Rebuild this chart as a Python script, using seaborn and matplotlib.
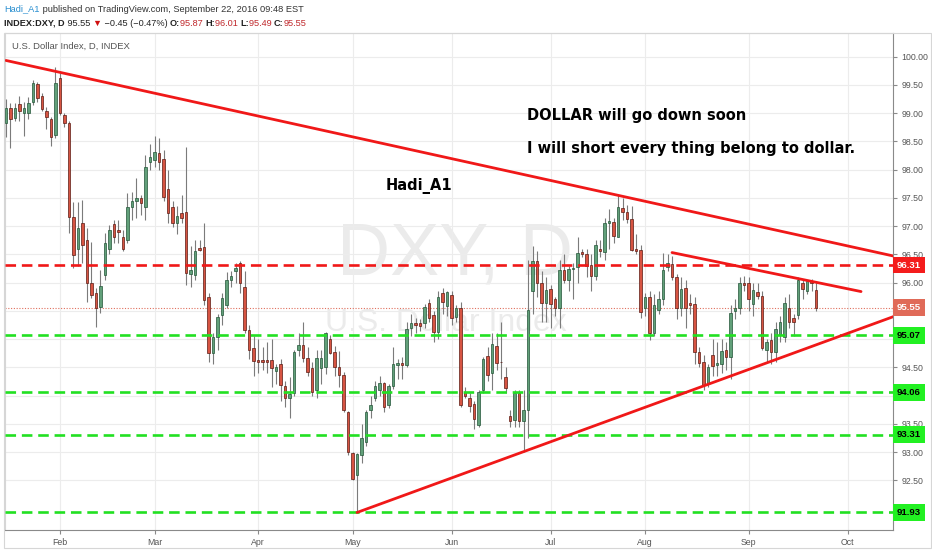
import numpy as np
import pandas as pd
import seaborn as sns
import matplotlib
matplotlib.use('Agg')
import matplotlib.pyplot as plt
from matplotlib.transforms import IdentityTransform
from matplotlib.patches import Rectangle

# daily bars of INDEX:DXY, first bar 2016-01-14, one per weekday
start_date = '2016-01-14'
opens = [98.82, 99.09, 98.91, 99.16, 99.00, 99.00, 99.20, 99.51, 99.30, 99.04,
         98.89, 98.61, 99.62, 98.96, 98.82, 97.16, 96.60, 97.05, 96.75, 95.99,
         95.81, 95.57, 96.13, 96.60, 97.03, 96.93, 96.80, 96.75, 97.34, 97.44,
         97.50, 97.33, 98.14, 98.17, 98.29, 98.18, 97.65, 97.34, 97.05, 97.23,
         97.25, 96.15, 96.13, 96.61, 96.63, 95.74, 94.75, 95.04, 95.43, 95.60,
         96.04, 96.20, 96.35, 95.92, 95.16, 94.84, 94.62, 94.63, 94.63, 94.63,
         94.43, 94.56, 94.16, 93.95, 94.04, 94.81, 94.90, 94.66, 94.48, 94.10,
         94.49, 94.50, 95.00, 94.77, 94.50, 94.36, 93.70, 92.98, 92.60, 92.95,
         93.18, 93.74, 93.96, 94.10, 94.22, 93.83, 94.16, 94.54, 94.58, 94.54,
         95.20, 95.28, 95.28, 95.28, 95.63, 95.42, 95.12, 95.81, 95.58, 95.78,
         95.39, 95.55, 94.07, 93.95, 93.85, 93.48, 94.10, 94.70, 94.40, 94.88,
         94.60, 94.33, 93.64, 93.57, 94.04, 93.55, 93.74, 95.85, 96.38, 96.00,
         95.63, 95.89, 95.71, 95.55, 96.22, 96.04, 96.24, 96.27, 96.54, 96.50,
         96.31, 96.11, 96.59, 96.54, 97.05, 97.07, 96.81, 97.32, 97.25, 97.12,
         96.60, 96.57, 95.55, 95.74, 95.10, 95.52, 95.71, 96.27, 96.33, 96.10,
         95.55, 95.90, 95.63, 95.62, 94.77, 94.60, 94.20, 94.72, 94.54, 94.55,
         94.80, 94.69, 95.50, 95.55, 96.00, 96.00, 95.62, 95.83, 95.76, 94.80,
         94.98, 94.77, 95.07, 95.04, 95.55, 95.37, 95.42, 96.00, 95.85, 96.02,
         95.87]
highs = [99.25, 99.18, 99.18, 99.30, 99.20, 99.28, 99.58, 99.55, 99.35, 99.10,
         98.93, 99.81, 99.71, 99.00, 98.85, 97.42, 97.42, 97.46, 96.96, 96.72,
         95.90, 96.22, 96.88, 97.02, 97.10, 97.10, 96.93, 97.58, 97.60, 97.85,
         97.55, 98.25, 98.45, 98.60, 98.55, 98.35, 98.00, 97.45, 97.35, 97.55,
         98.40, 96.65, 96.75, 96.75, 97.05, 95.82, 95.10, 95.45, 95.82, 96.18,
         96.20, 96.35, 96.38, 96.20, 95.25, 95.05, 95.00, 94.85, 94.95, 95.00,
         94.55, 94.65, 94.25, 94.33, 94.80, 95.10, 95.30, 94.85, 94.60, 94.80,
         94.80, 95.12, 95.07, 94.88, 94.78, 94.42, 93.73, 93.00, 92.98, 93.50,
         93.75, 94.00, 94.25, 94.35, 94.24, 94.20, 94.85, 94.65, 94.68, 95.30,
         95.45, 95.38, 95.35, 95.62, 95.70, 95.50, 95.85, 95.90, 95.85, 95.85,
         95.60, 95.65, 94.15, 94.05, 93.90, 94.10, 94.68, 94.85, 95.10, 95.10,
         95.30, 94.50, 93.75, 94.10, 94.10, 94.10, 96.40, 96.65, 96.55, 96.20,
         96.10, 95.95, 95.75, 96.40, 96.50, 96.30, 96.35, 96.80, 96.60, 96.60,
         96.50, 96.75, 96.75, 97.15, 97.30, 97.15, 97.55, 97.50, 97.38, 97.35,
         96.85, 96.66, 95.82, 95.85, 95.80, 95.85, 96.52, 96.50, 96.47, 96.15,
         96.10, 96.05, 95.80, 95.75, 94.85, 94.72, 94.55, 95.00, 94.95, 95.00,
         94.95, 95.60, 95.70, 96.10, 96.12, 96.10, 96.00, 96.00, 95.85, 95.00,
         95.10, 95.30, 95.40, 95.75, 95.80, 95.45, 96.10, 96.05, 96.05, 96.06,
         96.01]
lows = [98.58, 98.38, 98.85, 98.85, 98.60, 98.90, 99.15, 99.20, 99.03, 98.72,
        98.41, 98.56, 98.96, 98.75, 96.88, 96.26, 96.30, 96.35, 95.66, 95.72,
        95.21, 95.46, 96.04, 96.50, 96.70, 96.70, 96.55, 96.70, 97.10, 97.15,
        97.20, 97.10, 98.00, 98.05, 98.00, 97.45, 97.05, 96.98, 96.85, 97.05,
        95.95, 95.92, 96.05, 96.55, 95.60, 94.60, 94.55, 94.80, 95.25, 95.55,
        95.92, 96.00, 95.82, 95.10, 94.65, 94.35, 94.40, 94.45, 94.40, 94.15,
        94.20, 93.90, 93.80, 93.60, 94.00, 94.70, 94.60, 94.35, 94.00, 93.95,
        94.20, 94.38, 94.73, 94.35, 94.15, 93.70, 92.95, 92.50, 91.93, 92.80,
        93.10, 93.60, 93.90, 94.00, 93.70, 93.78, 94.12, 94.30, 94.30, 94.50,
        95.05, 95.10, 95.15, 95.20, 95.30, 94.95, 95.00, 95.45, 95.40, 95.25,
        95.30, 93.80, 93.95, 93.70, 93.40, 93.45, 94.05, 94.25, 94.10, 94.45,
        94.30, 94.05, 93.45, 93.45, 93.45, 93.00, 93.25, 95.45, 95.75, 95.30,
        95.30, 95.20, 95.40, 95.20, 96.00, 95.85, 95.70, 96.00, 96.45, 96.10,
        95.85, 96.05, 96.45, 96.40, 96.60, 96.70, 96.80, 97.10, 97.05, 96.55,
        96.50, 95.37, 95.40, 94.98, 95.05, 95.45, 95.60, 96.20, 96.05, 95.35,
        95.40, 95.20, 95.45, 94.55, 94.50, 94.10, 94.15, 94.35, 94.35, 94.40,
        94.45, 94.30, 95.35, 95.45, 95.85, 95.50, 95.40, 95.70, 94.80, 94.60,
        94.55, 94.60, 94.95, 94.95, 95.20, 95.05, 95.35, 95.70, 95.80, 95.85,
        95.49]
closes = [99.09, 98.89, 99.09, 99.03, 99.09, 99.18, 99.53, 99.26, 99.07, 98.93,
          98.57, 99.53, 99.00, 98.82, 97.16, 96.49, 96.96, 96.66, 95.99, 95.78,
          95.55, 95.94, 96.70, 96.93, 96.80, 96.90, 96.60, 97.34, 97.44, 97.50,
          97.41, 98.05, 98.23, 98.31, 98.13, 97.52, 97.23, 97.05, 97.17, 97.14,
          96.17, 96.22, 96.56, 96.58, 95.69, 94.75, 95.04, 95.39, 95.73, 96.04,
          96.11, 96.26, 95.99, 95.16, 94.80, 94.61, 94.60, 94.59, 94.60, 94.49,
          94.50, 94.19, 93.95, 94.02, 94.77, 94.90, 94.66, 94.42, 94.06, 94.66,
          94.66, 95.10, 94.75, 94.50, 94.36, 93.74, 93.00, 92.53, 92.97, 93.25,
          93.71, 93.83, 94.16, 94.22, 93.80, 94.16, 94.56, 94.58, 94.54, 95.18,
          95.28, 95.25, 95.23, 95.56, 95.37, 95.12, 95.75, 95.66, 95.83, 95.37,
          95.55, 93.83, 94.00, 93.82, 93.58, 94.07, 94.65, 94.36, 94.91, 94.58,
          94.59, 94.13, 93.55, 94.04, 93.55, 93.74, 95.51, 96.38, 96.00, 95.63,
          95.87, 95.62, 95.55, 96.22, 96.04, 96.24, 96.26, 96.52, 96.50, 96.29,
          96.11, 96.67, 96.56, 97.05, 97.09, 96.82, 97.34, 97.24, 97.12, 96.58,
          96.55, 95.47, 95.74, 95.10, 95.60, 95.71, 96.22, 96.34, 96.10, 95.55,
          95.88, 95.55, 95.60, 94.77, 94.57, 94.19, 94.50, 94.52, 94.57, 94.78,
          94.69, 95.46, 95.55, 96.00, 95.96, 95.70, 95.87, 95.76, 94.84, 94.95,
          94.77, 95.18, 95.30, 95.63, 95.30, 95.30, 96.05, 95.88, 96.02, 96.00,
          95.55]

red_levels = [96.31]
green_levels = [95.07, 94.06, 93.31, 91.93]
last_price = 95.55

# drawn trend lines: (dates, prices)
upper_trend = (['2016-01-14', '2016-10-18'], [99.93, 96.455])
lower_trend = (['2016-05-03', '2016-10-18'], [91.93, 95.42])
short_trend = (['2016-08-09', '2016-10-06'], [96.53, 95.84])

month_names = ['Feb', 'Mar', 'Apr', 'May', 'Jun', 'Jul', 'Aug', 'Sep', 'Oct']

sns.set_theme(style='white')
plt.rcParams['font.family'] = ['Liberation Sans', 'DejaVu Sans']

df = pd.DataFrame({'open': opens, 'high': highs, 'low': lows, 'close': closes})
days = pd.bdate_range(start_date, periods=205)
df['date'] = days[:len(df)]
df['pos'] = np.arange(len(df))
pos_of = {d: i for i, d in enumerate(days)}

fig = plt.figure(figsize=(9.32, 5.5), dpi=100)
fig.patch.set_facecolor('white')
ax = fig.add_axes([5 / 932, 20 / 550, 888 / 932, 497 / 550])
ax.set_facecolor('white')

# watermark
ax.text(0.507, 0.553, 'DXY, D', transform=ax.transAxes, ha='center', va='center',
        fontsize=53, color='#ebebeb', zorder=0.5)
ax.text(0.497, 0.416, 'U.S. Dollar Index', transform=ax.transAxes, ha='center', va='center',
        fontsize=23, color='#ebebeb', zorder=0.5)

# candles
up = df['close'] >= df['open']
ax.vlines(df['pos'], df['low'], df['high'], color='#7b7b7b', lw=0.8, zorder=3)
bottom = np.minimum(df['open'], df['close'])
height = np.maximum((df['close'] - df['open']).abs(), 0.012)
ax.bar(df['pos'][up], height[up], bottom=bottom[up], width=0.64,
       color='#62a07a', edgecolor='#225437', linewidth=0.5, zorder=4)
ax.bar(df['pos'][~up], height[~up], bottom=bottom[~up], width=0.64,
       color='#d75442', edgecolor='#5b1a13', linewidth=0.5, zorder=4)

# horizontal levels
ax.axhline(last_price, color='#e0705e', lw=0.8, ls=(0, (1, 1.5)), zorder=2)
for v in red_levels:
    ax.axhline(v, color='#f01818', lw=1.9, ls=(0, (4, 2.2)), zorder=5)
for v in green_levels:
    ax.axhline(v, color='#22e022', lw=1.9, ls=(0, (4, 2.2)), zorder=5)

# trend lines
for dates, prices in [upper_trend, lower_trend, short_trend]:
    tl = pd.DataFrame({'x': [pos_of[pd.Timestamp(d)] for d in dates], 'y': prices})
    sns.lineplot(data=tl, x='x', y='y', ax=ax, color='#f01818', lw=2.0, zorder=6)

# text drawn on chart
bold = dict(family='DejaVu Sans', fontweight='bold', fontsize=10.5, color='black',
            va='center', ha='left', zorder=7)
ax.text(84.4, 97.71, 'Hadi_A1', **bold)
ax.text(115.8, 98.95, 'DOLLAR will go down soon', **bold)
ax.text(115.8, 98.38, 'I will short every thing belong to dollar.', **bold)
ax.text(0.008, 0.974, 'U.S. Dollar Index, D, INDEX', transform=ax.transAxes,
        fontsize=6.8, color='#555555', va='center', ha='left', zorder=7)

# axes
tags = red_levels + green_levels + [last_price]
ax.set_xlim(-0.22, 197.1)
ax.set_ylim(91.62, 100.416)
yt = np.arange(92.5, 100.01, 0.5)
ax.set_yticks(yt)
ax.set_yticklabels(['' if min(abs(v - t) for t in tags) < 0.12 else f'{v:.2f}' for v in yt])
month_pos = [i for i in range(1, len(days)) if days[i].month != days[i - 1].month][:len(month_names)]
ax.set_xticks(month_pos)
ax.set_xticklabels(month_names)
ax.yaxis.tick_right()
ax.tick_params(axis='both', labelsize=6.3, labelcolor='#555555', color='#8a8a8a',
               length=3, width=0.8, pad=3)
ax.tick_params(axis='y', right=True, left=False)
ax.tick_params(axis='x', bottom=True)
ax.grid(True, color='#ececec', lw=0.8, zorder=0)
ax.set_axisbelow(True)
ax.set_xlabel('')
ax.set_ylabel('')
for side in ['right', 'bottom']:
    ax.spines[side].set_color('#8a8a8a')
    ax.spines[side].set_linewidth(0.8)
for side in ['left', 'top']:
    ax.spines[side].set_color('#d6d6d6')
    ax.spines[side].set_linewidth(0.8)

# price labels on the scale
def price_tag(v, fc, tc):
    ax.annotate(f'{v:.2f}', xy=(1, v), xycoords=('axes fraction', 'data'),
                xytext=(2.8, 0), textcoords='offset points', ha='left', va='center',
                fontsize=6.8, fontweight='bold', color=tc, annotation_clip=False, zorder=8,
                bbox=dict(boxstyle='square,pad=0.42', fc=fc, ec='none'))

for v in red_levels:
    price_tag(v, '#f41c1c', 'white')
price_tag(last_price, '#e06a58', 'white')
for v in green_levels:
    price_tag(v, '#22f022', 'black')

# outer frame of the widget
fig.patches.append(Rectangle((4 / 932, 2 / 550), 927 / 932, 515 / 550, transform=fig.transFigure,
                             fill=False, ec='#d6d6d6', lw=0.8))

# header
renderer = fig.canvas.get_renderer()
def draw_runs(x, y, parts, size):
    for s, col, weight in parts:
        t = fig.text(x, y, s, color=col, fontsize=size, fontweight=weight, va='center', ha='left',
                     transform=IdentityTransform(), family=['Liberation Sans', 'DejaVu Sans'])
        x = t.get_window_extent(renderer).x1

draw_runs(4, 550 - 9, [('Hadi_A1', '#2a8fd0', 'normal'),
                       (' published on TradingView.com, September 22, 2016 09:48 EST', '#333333', 'normal')], 6.7)
dark = '#222222'
red = '#c0282c'
draw_runs(4, 550 - 23, [('INDEX:DXY, D', dark, 'bold'), (' 95.55 ', dark, 'normal'),
                        ('\u25bc', '#d01010', 'normal'), (' \u22120.45 (\u22120.47%) ', dark, 'normal'),
                        ('O:', dark, 'bold'), ('95.87 ', red, 'normal'),
                        ('H:', dark, 'bold'), ('96.01 ', red, 'normal'),
                        ('L:', dark, 'bold'), ('95.49 ', red, 'normal'),
                        ('C:', dark, 'bold'), ('95.55', red, 'normal')], 6.6)

fig.savefig('out.png', dpi=100, facecolor='white')
